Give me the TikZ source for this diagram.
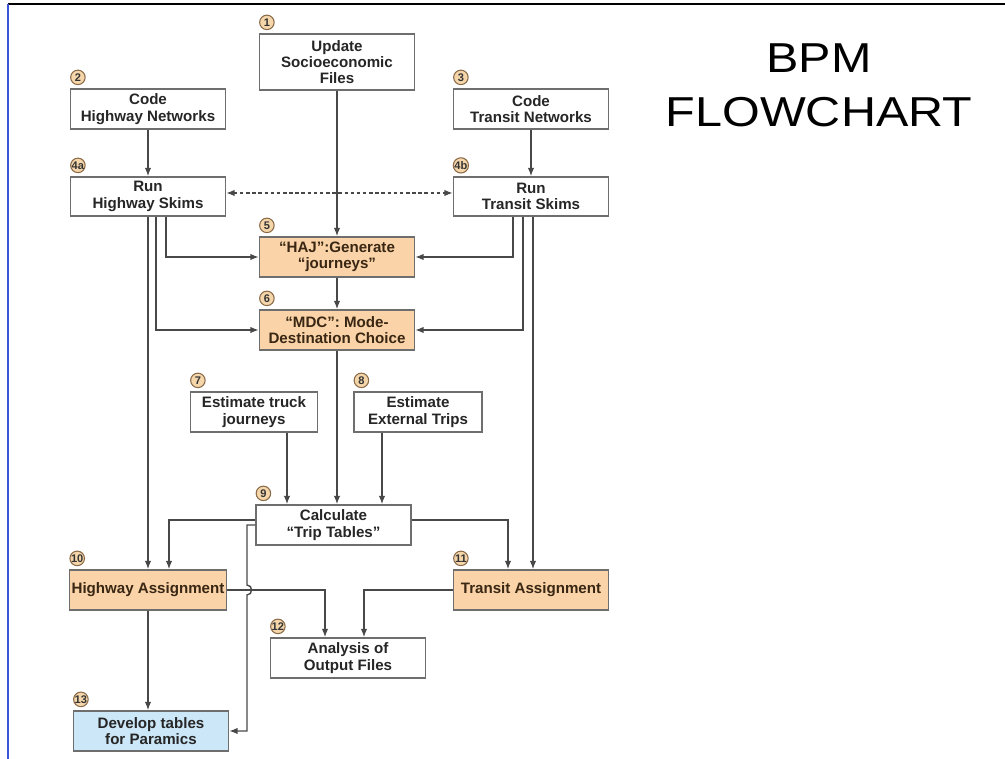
\documentclass[tikz,border=0pt]{standalone}
\usepackage{fontspec}
\setmainfont{Liberation Sans}
\usetikzlibrary{arrows.meta}
\definecolor{boxline}{HTML}{6E6E6E}
\definecolor{flowline}{HTML}{484848}
\definecolor{hotfill}{HTML}{FAD4A8}
\definecolor{coolfill}{HTML}{CCE7F7}
\definecolor{badgefill}{HTML}{F4D6AA}
\definecolor{badgeline}{HTML}{8A6A48}
\definecolor{frameblue}{HTML}{3A55D8}

\tikzset{
  stepbox/.style={draw=boxline, line width=0.7pt, fill=white, align=center,
    text=black!85, font=\bfseries\fontsize{8.6}{9.3}\selectfont,
    minimum width=3.1cm, minimum height=0.8cm, inner sep=1pt},
  hot/.style={stepbox, fill=hotfill, text=brown!30!black},
  cool/.style={stepbox, fill=coolfill},
  badge/.style={circle, draw=badgeline, fill=badgefill, line width=0.6pt,
    inner sep=0pt, minimum size=0.29cm, text=black!80,
    font=\bfseries\fontsize{6.3}{7}\selectfont},
  flow/.style={draw=flowline, line width=0.8pt, ->},
}

\begin{document}
\begin{tikzpicture}[x={0.02cm}, y={-0.02cm}, >={Latex[length=4.8pt,width=3.6pt]}]
    \useasboundingbox (0,0) rectangle (1005,759);
    % frame
    \draw[line width=1.1pt] (8,4) -- (1005,4);
    \draw[frameblue, line width=1.1pt] (8,4) -- (8,759);

    % title
    \node[font=\fontsize{23.8}{30.6}\selectfont, align=center, xscale=1.16, transform shape]
        (title) at (819,85) {BPM\\FLOWCHART};

    % steps
    \node[stepbox, minimum height=1.12cm] (n1) at (337,62) {Update\\Socioeconomic\\Files};
    \node[stepbox] (n2) at (148,109) {Code\\Highway Networks};
    \node[stepbox] (n3) at (531,109) {Code\\Transit Networks};
    \node[stepbox, minimum height=0.78cm] (n4a) at (148,196.5) {Run\\Highway Skims};
    \node[stepbox, minimum height=0.78cm] (n4b) at (531,196.5) {Run\\Transit Skims};
    \node[hot] (n5) at (337,257) {``HAJ'':Generate\\``journeys''};
    \node[hot] (n6) at (337,330) {``MDC'': Mode-\\Destination Choice};
    \node[stepbox, minimum width=2.54cm] (n7) at (254,412) {Estimate truck\\journeys};
    \node[stepbox, minimum width=2.56cm] (n8) at (418,412) {Estimate\\External Trips};
    \node[stepbox] (n9) at (333.5,525) {Calculate\\``Trip Tables''};
    \node[hot] (n10) at (148,590) {Highway Assignment};
    \node[hot] (n11) at (531,590) {Transit Assignment};
    \node[stepbox] (n12) at (348,658) {Analysis of\\Output Files};
    \node[cool] (n13) at (151,731) {Develop tables\\for Paramics};

    % step numbers
    \foreach \n/\t in {n1/1, n2/2, n3/3, n4a/4a, n4b/4b, n5/5, n6/6, n7/7, n8/8,
                       n9/9, n10/10, n11/11, n12/12, n13/13}
        \node[badge] (b\t) at ([shift={(8,-11)}]\n.north west) {\t};

    % connectors
    \draw[flow] (n1) -- (n5);
    \draw[flow] (n2) -- (n4a);
    \draw[flow] (n3) -- (n4b);
    \draw[flow, <->, dash pattern=on 2pt off 1.5pt]
        ([yshift=0.07cm]n4a.east) -- ([yshift=0.07cm]n4b.west);
    \draw[flow] ([xshift=0.36cm]n4a.south) |- (n5);
    \draw[flow] ([xshift=0.16cm]n4a.south) |- (n6);
    \draw[flow] (n4a) -- (n10);
    \draw[flow] ([xshift=-0.36cm]n4b.south) |- (n5);
    \draw[flow] ([xshift=-0.16cm]n4b.south) |- (n6);
    \draw[flow] ([xshift=0.04cm]n4b.south) -- ([xshift=0.04cm]n11.north);
    \draw[flow] (n5) -- (n6);
    \draw[flow] (n6) -- (n6 |- n9.north);
    \draw[flow] ([xshift=0.66cm]n7.south) -- ([xshift=0.66cm]n7.south |- n9.north);
    \draw[flow] ([xshift=-0.72cm]n8.south) -- ([xshift=-0.72cm]n8.south |- n9.north);
    \draw[flow] ([yshift=0.1cm]n9.west) -| ([xshift=0.42cm]n10.north);
    \draw[flow] ([yshift=0.1cm]n9.east) -| ([xshift=-0.46cm]n11.north);
    \coordinate (hop) at (247,590);
    \draw[flow] (n9.west) -| ([yshift=0.1cm]hop)
        .. controls +(6,0) and +(6,0) .. ([yshift=-0.1cm]hop) |- (n13.east);
    \draw[flow] (n10) -- (n10 |- n13.north);
    \draw[flow] (n10.east) -| ([xshift=-0.46cm]n12.north);
    \draw[flow] (n11.west) -| ([xshift=0.32cm]n12.north);
\end{tikzpicture}
\end{document}
